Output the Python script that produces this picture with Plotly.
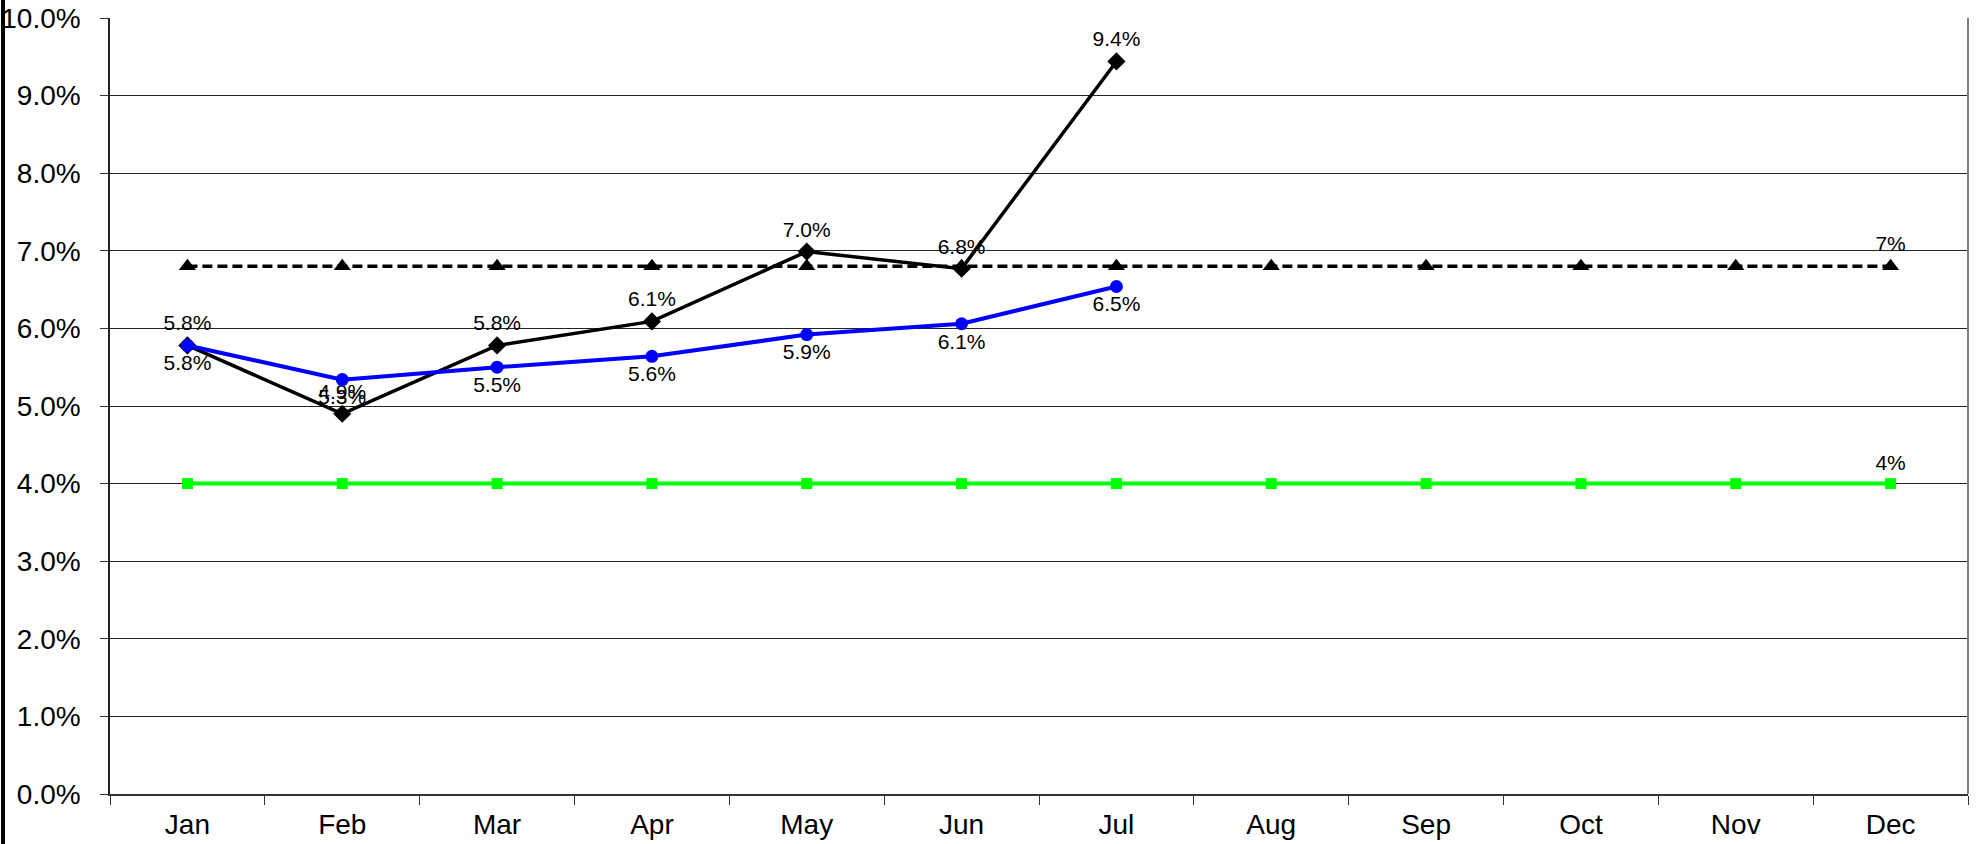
import plotly.graph_objects as go

months = ["Jan", "Feb", "Mar", "Apr", "May", "Jun", "Jul", "Aug", "Sep", "Oct", "Nov", "Dec"]
actual = [0.0578, 0.0490, 0.0578, 0.0609, 0.0699, 0.0677, 0.0944]
ytd = [0.0578, 0.0534, 0.0550, 0.0564, 0.0592, 0.0606, 0.0654]
target = [0.068] * 12
floor = [0.04] * 12

FONT = "Liberation Sans, Arial, sans-serif"
LBL = 21

def last_only(vals, fmt):
    return [""] * (len(vals) - 1) + [format(vals[-1], fmt)]

fig = go.Figure()

fig.add_trace(go.Scatter(
    x=months, y=floor, mode="lines+markers+text",
    line=dict(color="#00FF00", width=4),
    marker=dict(symbol="square", size=11, color="#00FF00"),
    text=last_only(floor, ".0%"), textposition="top center",
    textfont=dict(size=LBL, color="#000000", family=FONT),
    cliponaxis=False,
))
fig.add_trace(go.Scatter(
    x=months, y=target, mode="lines+markers+text",
    line=dict(color="#000000", width=3.5, dash="10px,5px"),
    marker=dict(symbol="triangle-up", size=15, color="#000000"),
    text=last_only(target, ".0%"), textposition="top center",
    textfont=dict(size=LBL, color="#000000", family=FONT),
    cliponaxis=False,
))
fig.add_trace(go.Scatter(
    x=months[:len(actual)], y=actual, mode="lines+markers+text",
    line=dict(color="#000000", width=3.5),
    marker=dict(symbol="diamond", size=14, color="#000000"),
    text=[format(v, ".1%") for v in actual], textposition="top center",
    textfont=dict(size=LBL, color="#000000", family=FONT),
    cliponaxis=False,
))
fig.add_trace(go.Scatter(
    x=months[:len(ytd)], y=ytd, mode="lines+markers+text",
    line=dict(color="#0000FF", width=4),
    marker=dict(symbol="circle", size=13, color="#0000FF"),
    text=[format(v, ".1%") for v in ytd], textposition="bottom center",
    textfont=dict(size=LBL, color="#000000", family=FONT),
    cliponaxis=False,
))

fig.update_layout(
    width=1976, height=844,
    margin=dict(l=110, r=8, t=18, b=50),
    paper_bgcolor="white", plot_bgcolor="white",
    showlegend=False,
    font=dict(family=FONT, size=28, color="#000000"),
    xaxis=dict(
        type="category", categoryorder="array", categoryarray=months,
        range=[-0.5, 11.5], automargin=False,
        showgrid=False, showline=True, linecolor="#333333", linewidth=2,
        ticks="outside", tickson="boundaries", ticklen=9, tickcolor="#333333", tickwidth=1,
        tickfont=dict(size=28, family=FONT), ticklabelstandoff=4,
        mirror=False,
    ),
    yaxis=dict(
        range=[0, 0.1], dtick=0.01, tick0=0, tickformat=".1%",
        automargin=False,
        showgrid=True, gridcolor="#222222", gridwidth=1,
        showline=True, linecolor="#222222", linewidth=1.5,
        ticks="outside", ticklen=8, tickcolor="#333333",
        tickfont=dict(size=28, family=FONT), ticklabelstandoff=14,
        zeroline=False,
    ),
    shapes=[
        dict(type="line", xref="paper", yref="paper",
             x0=1, x1=1, y0=0, y1=1, line=dict(color="#808080", width=2)),
        dict(type="line", xref="paper", yref="paper",
             x0=-107 / 1858, x1=-107 / 1858, y0=-50 / 776, y1=818 / 776,
             line=dict(color="#000000", width=4)),
    ],
)

fig.write_html(
    "out.html",
    config={"displayModeBar": False},
    post_script="document.body.style.margin='0';document.body.style.overflow='hidden';",
)
